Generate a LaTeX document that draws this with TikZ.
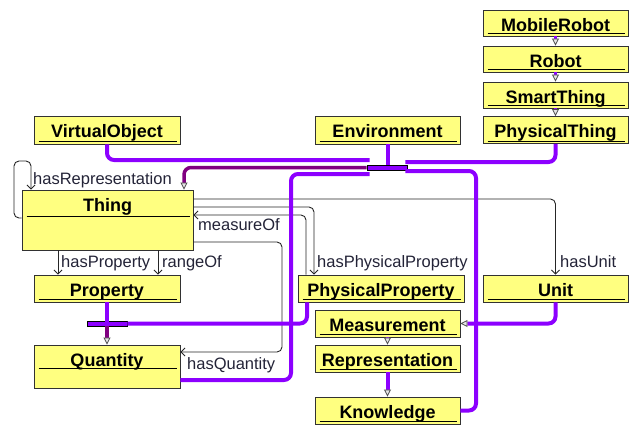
\documentclass[tikz,border=0pt]{standalone}
\usepackage{fontspec}
\setmainfont{Liberation Sans}
\usetikzlibrary{arrows.meta}
\definecolor{boxyellow}{RGB}{255,255,128}
\definecolor{violetline}{RGB}{140,0,255}
\definecolor{darkpurple}{RGB}{128,0,128}
\definecolor{lblcol}{RGB}{35,35,55}
\definecolor{boxedge}{RGB}{50,50,50}
\begin{document}
\begin{tikzpicture}[x=1pt,y=-1pt,
  box/.style={draw=boxedge, fill=boxyellow, line width=0.9pt, inner sep=0pt,
    text height=21pt, font=\fontsize{18}{20}\selectfont\bfseries},
  uline/.style={draw=black, line width=0.9pt},
  bar/.style={draw=black, fill=violetline, line width=0.9pt, inner sep=0pt,
    minimum width=40pt, minimum height=5pt},
  pline/.style={draw=violetline, line width=4pt, rounded corners=7pt},
  dline/.style={draw=darkpurple, line width=3.5pt, rounded corners=7pt},
  gen/.style={-{Triangle[length=7pt,width=7pt,color=black!70,fill=gray!20,line width=0.8pt]}},
  assoc/.style={draw=black!85, line width=0.9pt, rounded corners=5pt,
    -{Straight Barb[length=4pt,width=8pt]}},
  lbl/.style={font=\fontsize{16.5}{19}\selectfont, text=lblcol, inner sep=0pt, anchor=base west}
]
\path[use as bounding box] (0,0) rectangle (630,426);

% ---------- boxes ----------
\node[box, minimum width=145pt, minimum height=26pt, text depth=5pt] (mobile) at (555.5,23) {MobileRobot};
\node[box, minimum width=145pt, minimum height=26pt, text depth=5pt] (robot) at (555.5,59) {Robot};
\node[box, minimum width=145pt, minimum height=26pt, text depth=5pt] (smart) at (555.5,95) {SmartThing};
\node[box, minimum width=145pt, minimum height=27pt, text depth=6pt] (pthing) at (555.5,130) {PhysicalThing};
\node[box, minimum width=146pt, minimum height=28pt, text depth=7pt] (vobj) at (107,130) {VirtualObject};
\node[box, minimum width=145pt, minimum height=28pt, text depth=7pt] (env) at (387.5,130) {Environment};
\node[box, minimum width=171pt, minimum height=60pt, text depth=39pt] (thing) at (107.5,220) {Thing};
\node[box, minimum width=146pt, minimum height=27pt, text depth=6pt] (prop) at (107,288.5) {Property};
\node[box, minimum width=166pt, minimum height=27pt, text depth=6pt] (pprop) at (381,288.5) {PhysicalProperty};
\node[box, minimum width=145pt, minimum height=27pt, text depth=6pt] (unit) at (555.5,288.5) {Unit};
\node[box, minimum width=145pt, minimum height=27pt, text depth=6pt] (meas) at (387.5,323.5) {Measurement};
\node[box, minimum width=145pt, minimum height=27pt, text depth=6pt] (repr) at (387.5,358.5) {Representation};
\node[box, minimum width=145pt, minimum height=27pt, text depth=6pt] (know) at (387.5,410.5) {Knowledge};
\node[box, minimum width=146pt, minimum height=43pt, text depth=22pt] (quantity) at (107,366.5) {Quantity};

% inner compartment lines
\foreach \n in {mobile,robot,smart,pthing,vobj,env,prop,pprop,unit,meas,repr,know}
  \draw[uline] ([shift={(5,-3)}]\n.south west) -- ([shift={(-3,-3)}]\n.south east);
\draw[uline] ([shift={(5,27)}]thing.north west) -- ([shift={(-3,27)}]thing.north east);
\draw[uline] ([shift={(5,24)}]quantity.north west) -- ([shift={(-3,24)}]quantity.north east);

% junction bars
\node[bar] (bar1) at (387,167.5) {};
\node[bar] (bar2) at (107,323.5) {};

% ---------- associations ----------
\draw[assoc] ([shift={(0,-2)}]thing.west) -| (14,161) -| ([xshift=-76.5pt]thing.north);
\draw[assoc] ([shift={(0,-21)}]thing.east) -| (unit.north);
\draw[assoc] ([shift={(0,-13)}]thing.east) -| ([xshift=-67pt]pprop.north);
\draw[assoc] ([xshift=-75pt]pprop.north) |- ([shift={(0,-5)}]thing.east);
\draw[assoc] ([shift={(0,22)}]thing.east) -| (282,300) |- ([shift={(0,-14.5)}]quantity.east);
\draw[assoc] ([xshift=-49.5pt]thing.south) -- ([xshift=-49.5pt]thing.south |- prop.north);
\draw[assoc] ([xshift=50.5pt]thing.south) -- ([xshift=50.5pt]thing.south |- prop.north);

\node[lbl] (lrep) at (33,184) {hasRepresentation};
\node[lbl] (lhp) at (61,267) {hasProperty};
\node[lbl] (lro) at (162,267) {rangeOf};
\node[lbl] (lhpp) at (317,267) {hasPhysicalProperty};
\node[lbl] (lhu) at (560,267) {hasUnit};
\node[lbl] (lmo) at (198,230) {measureOf};
\node[lbl] (lhq) at (187,369) {hasQuantity};

% ---------- generalizations ----------
\draw[pline] (vobj.south) |- ([shift={(3,-7.5)}]bar1.west);
\draw[pline] (env.south) -- (env.south |- bar1.north);
\draw[pline] (pthing.south) |- ([shift={(-2,-5.5)}]bar1.east);
\draw[pline] ([shift={(0,13.5)}]quantity.east) -| (291,174) -- ([shift={(3,6.5)}]bar1.west);
\draw[pline] (know.east) -| (476,171) -- ([shift={(-2,3.5)}]bar1.east);
\draw[dline, gen] (bar1.west) -| ([xshift=76.5pt]thing.north);

\draw[pline] (prop.south) -- (bar2.center);
\draw[pline] ([xshift=-74pt]pprop.south) |- (bar2.east);
\draw[dline, gen] (bar2.south) -- (quantity.north);

\draw[pline, line width=3pt, gen] (mobile.south) -- (robot.north);
\draw[pline, line width=3pt, gen] (robot.south) -- (smart.north);
\draw[pline, line width=3pt, gen] (smart.south) -- (pthing.north);
\draw[pline, line width=3pt, gen] (meas.south) -- (repr.north);
\draw[pline, gen] (repr.south) -- (know.north);
\draw[pline, gen] (unit.south) |- (meas.east);
\end{tikzpicture}
\end{document}
